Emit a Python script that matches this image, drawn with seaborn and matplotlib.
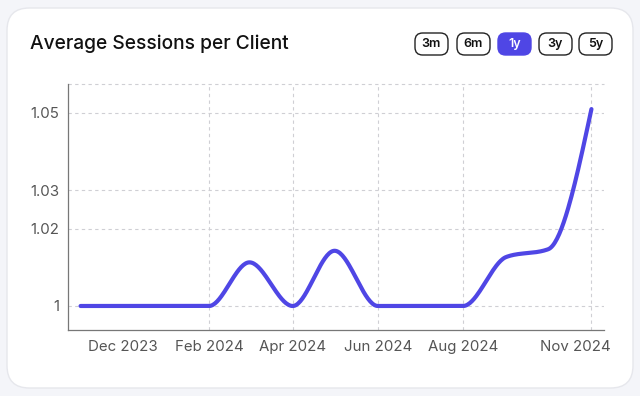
import matplotlib.pyplot as plt
import matplotlib.dates as mdates
import matplotlib.transforms as mtransforms
import numpy as np
import pandas as pd
import seaborn as sns
from matplotlib.patches import FancyBboxPatch

# --------------------------------------------------------------------------- #
# Data (monthly averages)
# --------------------------------------------------------------------------- #
MONTHS = [
    "2023-11-01", "2023-12-01", "2024-01-01", "2024-02-01", "2024-03-01",
    "2024-04-01", "2024-05-01", "2024-06-01", "2024-07-01", "2024-08-01",
    "2024-09-01", "2024-10-01", "2024-11-01",
]
SESSIONS = [1.0, 1.0, 1.0, 1.0, 1.0113, 1.0, 1.0143, 1.0, 1.0, 1.0,
            1.0127, 1.0147, 1.051]

Y_TICKS = [1.0, 1.02, 1.03, 1.05]
Y_TICK_LABELS = ["1", "1.02", "1.03", "1.05"]
X_TICKS = ["2023-12-01", "2024-02-01", "2024-04-01", "2024-06-01",
           "2024-08-01", "2024-11-01"]
X_TICK_LABELS = ["Dec 2023", "Feb 2024", "Apr 2024", "Jun 2024",
                 "Aug 2024", "Nov 2024"]
RANGES = ["3m", "6m", "1y", "3y", "5y"]
ACTIVE_RANGE = "1y"

ACCENT = "#4f46e5"
GRID = "#cfcfd4"
TEXT = "#555555"


def monotone_curve(x, y, steps=40):
    """Smooth the polyline the way d3's curveMonotoneX renders it."""
    x = np.asarray(x, float)
    y = np.asarray(y, float)
    h = np.diff(x)
    s = np.diff(y) / h
    t = np.zeros_like(y)
    for i in range(1, len(y) - 1):
        p = (s[i - 1] * h[i] + s[i] * h[i - 1]) / (h[i - 1] + h[i])
        t[i] = (np.sign(s[i - 1]) + np.sign(s[i])) * min(
            abs(s[i - 1]), abs(s[i]), 0.5 * abs(p))
    t[0] = (3 * s[0] - t[1]) / 2
    t[-1] = (3 * s[-1] - t[-2]) / 2
    xs, ys = [], []
    u = np.linspace(0, 1, steps)
    for i in range(len(h)):
        d = h[i] / 3
        y0, y1 = y[i], y[i] + d * t[i]
        y2, y3 = y[i + 1] - d * t[i + 1], y[i + 1]
        xs.append(x[i] + u * h[i])
        ys.append((1 - u) ** 3 * y0 + 3 * (1 - u) ** 2 * u * y1
                  + 3 * (1 - u) * u ** 2 * y2 + u ** 3 * y3)
    return np.concatenate(xs), np.concatenate(ys)


dates = pd.to_datetime(MONTHS)
xnum = mdates.date2num(dates)
sx, sy = monotone_curve(xnum, SESSIONS)
df = pd.DataFrame({"date": mdates.num2date(sx), "sessions": sy})
df["date"] = pd.to_datetime(df["date"]).dt.tz_localize(None)

sns.set_theme(style="white")
plt.rcParams["font.family"] = ["Inter", "DejaVu Sans"]

fig = plt.figure(figsize=(6.4, 3.96), dpi=100)
fig.patch.set_facecolor("#f4f5f9")

# card background
card = FancyBboxPatch(
    (7 / 640, 8 / 396), 626 / 640, 380 / 396,
    boxstyle="round,pad=0,rounding_size=0.035",
    transform=fig.transFigure, facecolor="white", edgecolor="#e6e7ec",
    linewidth=1, mutation_aspect=640 / 396, zorder=-5,
)
fig.patches.append(card)

fig.text(30 / 640, 1 - 44 / 396, "Average Sessions per Client",
         fontsize=13.8, fontweight="medium", color="#111111",
         va="center", ha="left")

# range selector buttons
btn_left = [415, 457, 498, 539, 579]
for label, bx in zip(RANGES, btn_left):
    active = label == ACTIVE_RANGE
    fig.patches.append(FancyBboxPatch(
        (bx / 640, 1 - 55 / 396), 33 / 640, 22 / 396,
        boxstyle="round,pad=0,rounding_size=0.012",
        transform=fig.transFigure, mutation_aspect=640 / 396,
        facecolor=ACCENT if active else "white",
        edgecolor=ACCENT if active else "#222222", linewidth=1, zorder=1,
    ))
    fig.text((bx + 16.5) / 640, 1 - 44 / 396, label, fontsize=9,
             fontweight="semibold", color="white" if active else "#111111",
             ha="center", va="center", zorder=2)

ax = fig.add_axes([68 / 640, 1 - 330 / 396, 536 / 640, 246 / 396])
ax.set_facecolor("none")
ax.set_zorder(2)

sns.lineplot(data=df, x="date", y="sessions", ax=ax, color=ACCENT,
             linewidth=3, zorder=3)

ymin, ymax = 0.99378, 1.0575
ax.set_ylim(ymin, ymax)
ax.set_xlim(pd.Timestamp("2023-10-23"), pd.Timestamp("2024-11-10"))

ax.set_yticks(Y_TICKS)
ax.set_yticklabels(Y_TICK_LABELS)
ax.set_xticks(pd.to_datetime(X_TICKS))
ax.set_xticklabels(X_TICK_LABELS)
ax.set_xlabel("")
ax.set_ylabel("")

ax.tick_params(axis="x", length=4, width=0.8, color="#888888",
               labelsize=10.8, labelcolor=TEXT, pad=3)
ax.tick_params(axis="y", length=0, labelsize=10.8, labelcolor=TEXT, pad=6)

# last label is kept inside the plot area, as in the original widget
last = ax.get_xticklabels()[-1]
last.set_transform(last.get_transform() + mtransforms.ScaledTranslation(
    -16 / 100, 0, fig.dpi_scale_trans))

ax.grid(True, linestyle=(0, (3, 3)), color=GRID, linewidth=0.8, zorder=1)
ax.xaxis.get_gridlines()[0].set_visible(False)
ax.axhline(ymax, linestyle=(0, (3, 3)), color=GRID, linewidth=0.8,
           clip_on=False, zorder=1)

for side in ("top", "right"):
    ax.spines[side].set_visible(False)
for side in ("left", "bottom"):
    ax.spines[side].set_color("#777777")
    ax.spines[side].set_linewidth(0.9)

fig.savefig("out.png", dpi=100)
